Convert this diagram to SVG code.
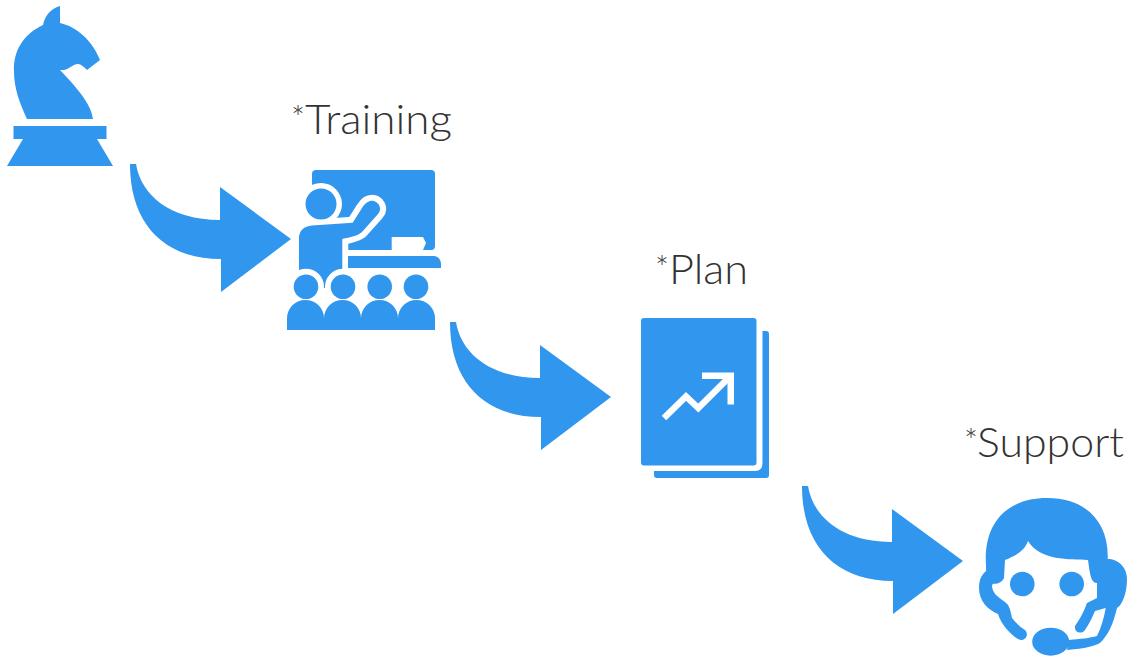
<svg xmlns="http://www.w3.org/2000/svg" width="1128" height="656" viewBox="0 0 1128 656">
<style>
.b{fill:#3096ee}
.w{fill:#fff}
.t{font-family:Lato,"Open Sans",sans-serif;font-weight:300;font-size:41px;fill:#333}
.s{font-size:33px}
</style>
<defs>
<path id="arrow" d="M130 164H136C141 195 170 220 220 220V187L291 239L221 292V259C165 259 130 225 130 164Z"/>
</defs>
<rect width="1128" height="656" fill="#fff"/>
<g id="connectors" class="b">
<use href="#arrow"/>
<use href="#arrow" x="320" y="158"/>
<use href="#arrow" x="672" y="322"/>
</g>
<g id="knight" class="b">
<path d="M60 6C50 9 45 16 43 25C24 34 13 50 14 72C14 88 20 104 27 119H93C91 104 78 89 60 70H64C69 69 73 64 78 64C81 64 84 67 87 70L100 60C93 42 78 27 60 23Z"/>
<path d="M13.500 126H106.500V139H97L113 166H7L23 139H13.500Z"/>
</g>
<g id="training">
<text class="t" y="134"><tspan class="s" x="291" dy="-4">*</tspan><tspan x="305" y="134" textLength="147" lengthAdjust="spacingAndGlyphs">Training</tspan></text>
<rect class="b" x="312" y="170" width="123" height="80" rx="4"/>
<circle class="w" cx="321" cy="204" r="21"/>
<path class="w" d="M391.700 237H423L426 243L423 250H391.700Z"/>
<path d="M299 290V238C299 231 304 226 312 225.500L352.700 222.700L362 208C365 203 369 200.700 372 200.700C378 200.700 383 208 378 214L362 232C358 236 350 237 342.300 239V290Z" class="b" stroke="#fff" stroke-width="12" paint-order="stroke"/>
<circle class="b" cx="321" cy="204" r="15.500"/>
<path class="b" d="M348 256H434C438 256 441 260 441 264V268H348Z"/>
<rect class="w" x="285" y="288" width="65" height="8"/>
<circle class="w" cx="306" cy="286.700" r="18"/>
<circle class="w" cx="343" cy="286.700" r="18"/>
<g class="b">
<circle cx="306" cy="286.700" r="12.300"/>
<circle cx="343" cy="286.700" r="12.300"/>
<circle cx="379.700" cy="286.700" r="12.300"/>
<circle cx="416" cy="286.700" r="12.300"/>
<path d="M287 330V318.400A18.400 18.400 0 0 1 324 318.400A18.400 18.400 0 0 1 361 318.400A18.400 18.400 0 0 1 398 318.400A18.400 18.400 0 0 1 435 318.400V330Z"/>
</g>
</g>
<g id="plan">
<text class="t" y="284"><tspan class="s" x="655" dy="-4">*</tspan><tspan x="669" y="284" textLength="79" lengthAdjust="spacingAndGlyphs">Plan</tspan></text>
<rect class="b" x="641" y="318" width="115.500" height="147.500" rx="3"/>
<path class="b" d="M762.500 331H766Q769 331 769 334V475Q769 478 766 478H657Q654 478 654 475V471H755Q762.500 471 762.500 463Z"/>
<path d="M664 418L686 396.500L698.300 408L731 375.500" fill="none" stroke="#fff" stroke-width="6.500"/>
<path class="w" d="M702 372.500H734V404.500H727.500V379H702Z"/>
</g>
<g id="support">
<text class="t" y="457"><tspan class="s" x="964" dy="-4">*</tspan><tspan x="977" y="457" textLength="147" lengthAdjust="spacingAndGlyphs">Support</tspan></text>
<g class="b">
<path d="M986 566C983 522 1008 498 1047 498C1086 498 1109 522 1107.700 559C1118 559 1127 567 1127 579C1127 595 1121 606 1117 608C1113 625 1108 635 1100 643C1092 647 1080 649 1067 650L1069 640C1080 639 1090 638 1097 636C1101 628 1104 618 1105.700 608L1095 611C1092 618 1089 624 1085 630C1081 635 1074 632 1075 626C1079 620 1084 612 1087 603L1097 598V583C1091 583 1090 575 1088 560C1070 559 1040 561 1028 541C1024 552 1014 556 1005 560L1004 578C1002 583 995 585 991 583C988 580 986 575 986 566Z"/>
<path d="M990 568L995 582L992 585C992 592 996 596 1005 602C1009 605 1010 608 1012 618C1015 622 1019 626 1025 630C1030 635 1024 643 1018 639C1010 634 1001 624 998 614C988 610 979 601 979 588C979 579 982 573 990 568Z"/>
<circle cx="1022.300" cy="584" r="12.300"/>
<circle cx="1071.700" cy="584" r="12.300"/>
<ellipse cx="1050.700" cy="641.700" rx="18.500" ry="14"/>
</g>
</g>
</svg>
